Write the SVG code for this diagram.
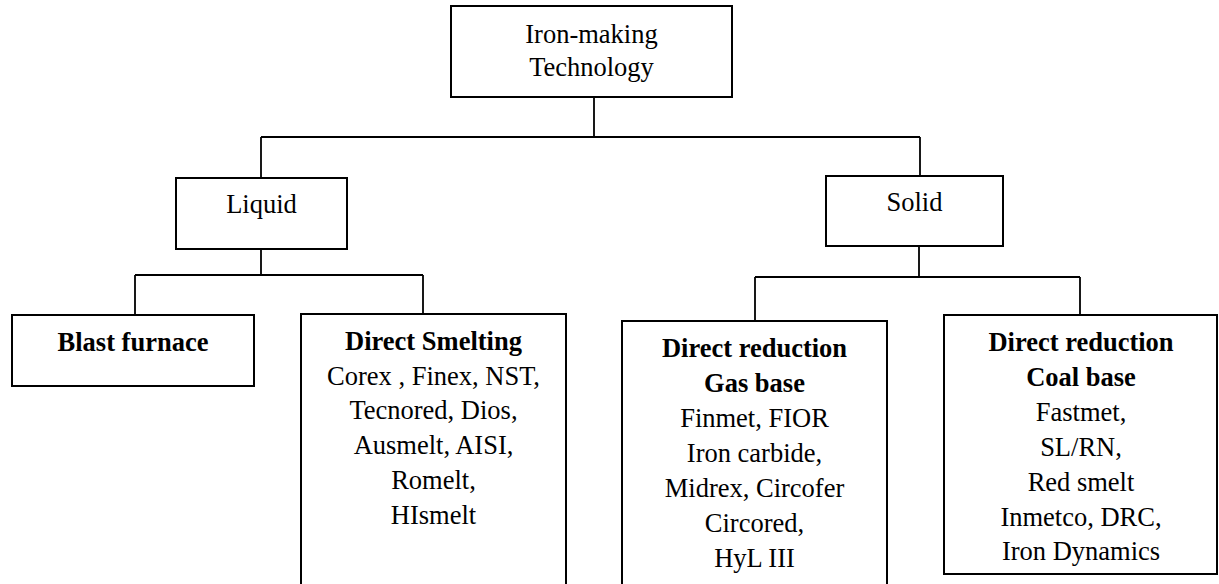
<svg xmlns="http://www.w3.org/2000/svg" width="1219" height="584" viewBox="0 0 1219 584">
<style>
.box{fill:#fff;stroke:#000;stroke-width:2}
.conn{fill:none;stroke:#000;stroke-width:1.8}
text{font-family:'Liberation Serif','Times New Roman',Times,'DejaVu Serif',serif;font-size:26.5px;fill:#000;text-anchor:middle}
.b{font-weight:bold}
</style>
<rect width="1219" height="584" fill="#fff"/>
<g id="connectors">
<path class="conn" d="M594 97V137M261 137H920M261 137V178M920 137V176"/>
<path class="conn" d="M261 249V275M135 275H423M135 275V315M423 275V314"/>
<path class="conn" d="M919 246V277M755 277H1080M755 277V321M1080 277V315"/>
</g>
<g font-family="Liberation Serif, serif">
<g id="root">
<rect class="box" x="451" y="6" width="281" height="91"/>
<text x="591.5" y="43">Iron-making</text>
<text x="591.5" y="76">Technology</text>
</g>
<g id="liquid">
<rect class="box" x="176" y="178" width="171" height="71"/>
<text x="261.5" y="213">Liquid</text>
</g>
<g id="solid">
<rect class="box" x="826" y="176" width="177" height="70"/>
<text x="914.5" y="211">Solid</text>
</g>
<g id="blast-furnace">
<rect class="box" x="12" y="315" width="242" height="71"/>
<text class="b" x="133" y="351">Blast furnace</text>
</g>
<g id="direct-smelting">
<rect class="box" x="301" y="314" width="265" height="280"/>
<text class="b" x="433.5" y="350">Direct Smelting</text>
<text x="433.5" y="385">Corex , Finex, NST,</text>
<text x="433.5" y="419">Tecnored, Dios,</text>
<text x="433.5" y="454">Ausmelt, AISI,</text>
<text x="433.5" y="489">Romelt,</text>
<text x="433.5" y="524">HIsmelt</text>
</g>
<g id="dr-gas">
<rect class="box" x="622" y="321" width="265" height="273"/>
<text class="b" x="754.5" y="357">Direct reduction</text>
<text class="b" x="754.5" y="392">Gas base</text>
<text x="754.5" y="427">Finmet, FIOR</text>
<text x="754.5" y="462">Iron carbide,</text>
<text x="754.5" y="497">Midrex, Circofer</text>
<text x="754.5" y="532">Circored,</text>
<text x="754.5" y="567">HyL III</text>
</g>
<g id="dr-coal">
<rect class="box" x="944" y="315" width="273" height="259"/>
<text class="b" x="1081" y="351">Direct reduction</text>
<text class="b" x="1081" y="386">Coal base</text>
<text x="1081" y="421">Fastmet,</text>
<text x="1081" y="456">SL/RN,</text>
<text x="1081" y="491">Red smelt</text>
<text x="1081" y="526">Inmetco, DRC,</text>
<text x="1081" y="560">Iron Dynamics</text>
</g>
</g>
</svg>
